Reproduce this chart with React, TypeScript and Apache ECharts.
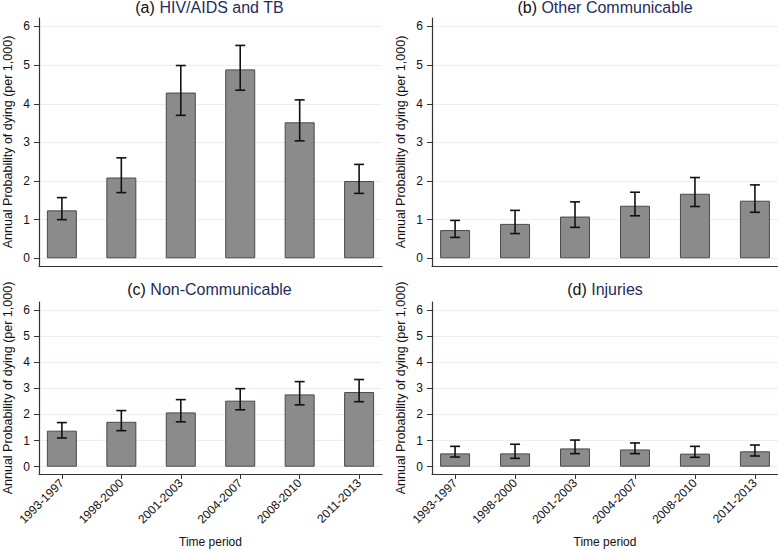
import React, { useEffect, useRef } from "react";
import * as echarts from "echarts";

const categories = ["1993-1997", "1998-2000", "2001-2003", "2004-2007", "2008-2010", "2011-2013"];
const yTicks = [0, 1, 2, 3, 4, 5, 6];
const xIdx = [0, 1, 2, 3, 4, 5];

const hivMean = [1.24, 2.09, 4.29, 4.89, 3.52, 2.0];
const hivLow = [1.0, 1.7, 3.7, 4.35, 3.04, 1.68];
const hivHigh = [1.57, 2.6, 4.99, 5.51, 4.1, 2.43];

const otherMean = [0.73, 0.89, 1.08, 1.36, 1.67, 1.49];
const otherLow = [0.54, 0.64, 0.8, 1.1, 1.34, 1.19];
const otherHigh = [0.98, 1.24, 1.46, 1.71, 2.09, 1.9];

const ncdMean = [1.38, 1.72, 2.08, 2.53, 2.77, 2.86];
const ncdLow = [1.1, 1.38, 1.72, 2.18, 2.37, 2.49];
const ncdHigh = [1.69, 2.15, 2.57, 2.99, 3.26, 3.34];

const injMean = [0.51, 0.51, 0.7, 0.66, 0.5, 0.59];
const injLow = [0.37, 0.32, 0.5, 0.5, 0.36, 0.41];
const injHigh = [0.78, 0.86, 1.02, 0.91, 0.78, 0.83];

const panelLetters = ["(a) ", "(b) ", "(c) ", "(d) "];
const panelNames = ["HIV/AIDS and TB", "Other Communicable", "Non-Communicable", "Injuries"];
const yTitle = "Annual Probability of dying (per 1,000)";
const xTitle = "Time period";

const FONT = "'Liberation Sans', Arial, Helvetica, sans-serif";

export default function App() {
  const ref = useRef<HTMLDivElement>(null);
  useEffect(() => {
    document.body.style.margin = "0";
    const chart = echarts.init(ref.current!, null, { renderer: "svg" });
    const panels = [
      { mean: hivMean, low: hivLow, high: hivHigh, grid: { left: 37, top: 18, width: 345, height: 248 }, ymin: -0.2, ymax: 6.22, bottom: false },
      { mean: otherMean, low: otherLow, high: otherHigh, grid: { left: 432, top: 18, width: 346, height: 248 }, ymin: -0.2, ymax: 6.22, bottom: false },
      { mean: ncdMean, low: ncdLow, high: ncdHigh, grid: { left: 37, top: 302, width: 345, height: 172 }, ymin: -0.28, ymax: 6.31, bottom: true },
      { mean: injMean, low: injLow, high: injHigh, grid: { left: 432, top: 302, width: 346, height: 172 }, ymin: -0.28, ymax: 6.31, bottom: true },
    ];
    const axisColor = "#333333";
    const grids = panels.map((p) => ({ ...p.grid }));
    const xAxes = panels.map((p, i) => ({
      type: "value",
      gridIndex: i,
      min: -0.385,
      max: 5.385,
      axisLine: { show: true, onZero: false, lineStyle: { color: axisColor, width: 1.2 } },
      axisTick: { show: p.bottom, customValues: xIdx, length: 5, lineStyle: { color: axisColor } },
      axisLabel: {
        show: p.bottom,
        customValues: xIdx,
        rotate: 45,
        margin: 7,
        fontSize: 12,
        fontFamily: FONT,
        color: "#111",
        formatter: (v: number) => categories[Math.round(v)] ?? "",
      },
      splitLine: { show: false },
      name: p.bottom ? xTitle : "",
      nameLocation: "middle",
      nameGap: 62,
      nameTextStyle: { fontSize: 12, fontFamily: FONT, color: "#111" },
    }));
    const yAxes = panels.map((p, i) => ({
      type: "value",
      gridIndex: i,
      min: p.ymin,
      max: p.ymax,
      axisLine: { show: true, onZero: false, lineStyle: { color: axisColor, width: 1.2 } },
      axisTick: { show: true, customValues: yTicks, length: 5, lineStyle: { color: axisColor } },
      axisLabel: { customValues: yTicks, margin: 9, fontSize: 12, fontFamily: FONT, color: "#111" },
      splitLine: { show: true, lineStyle: { color: "#e6eff2", width: 1 } },
      name: yTitle,
      nameLocation: "middle",
      nameRotate: 90,
      nameGap: 25,
      nameTextStyle: { fontSize: 12.5, fontFamily: FONT, color: "#111" },
    }));
    const series: any[] = [];
    panels.forEach((p, i) => {
      series.push({
        type: "bar",
        xAxisIndex: i,
        yAxisIndex: i,
        barWidth: 30,
        data: p.mean.map((v, k) => [xIdx[k], v]),
        itemStyle: { color: "#8b8b8b", borderColor: "#4a4a4a", borderWidth: 1 },
        z: 2,
      });
      series.push({
        type: "custom",
        xAxisIndex: i,
        yAxisIndex: i,
        z: 3,
        data: p.low.map((v, k) => [xIdx[k], v, p.high[k]]),
        encode: { x: 0, y: [1, 2] },
        renderItem: (params: any, api: any) => {
          const x = api.value(0);
          const lo = api.coord([x, api.value(1)]);
          const hi = api.coord([x, api.value(2)]);
          const h = 5;
          const style = { stroke: "#111", lineWidth: 1.6 };
          return {
            type: "group",
            children: [
              { type: "line", shape: { x1: lo[0], y1: lo[1], x2: hi[0], y2: hi[1] }, style },
              { type: "line", shape: { x1: hi[0] - h, y1: hi[1], x2: hi[0] + h, y2: hi[1] }, style },
              { type: "line", shape: { x1: lo[0] - h, y1: lo[1], x2: lo[0] + h, y2: lo[1] }, style },
            ],
          };
        },
      });
    });
    const titlePos = [
      [209.5, -1],
      [605, -1],
      [209.5, 281],
      [605, 281],
    ];
    const graphic = panels.map((p, i) => ({
      type: "text",
      x: titlePos[i][0],
      y: titlePos[i][1],
      style: {
        text: `{l|${panelLetters[i]}}{n|${panelNames[i]}}`,
        textAlign: "center",
        textVerticalAlign: "top",
        rich: {
          l: { fontSize: 16, fontFamily: FONT, fill: "#111" },
          n: { fontSize: 16, fontFamily: FONT, fill: "#1f2d5c" },
        },
      },
    }));
    chart.setOption({
      animation: false,
      backgroundColor: "#ffffff",
      grid: grids,
      xAxis: xAxes,
      yAxis: yAxes,
      series,
      graphic,
    });
    return () => chart.dispose();
  }, []);
  return <div ref={ref} style={{ width: 778, height: 551 }} />;
}
